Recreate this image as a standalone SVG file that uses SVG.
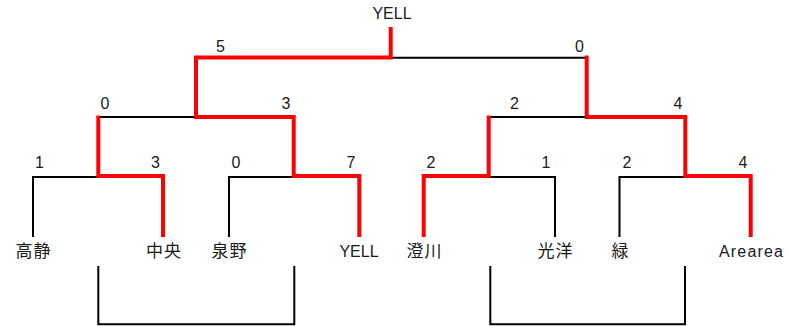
<svg xmlns="http://www.w3.org/2000/svg" width="788" height="326" viewBox="0 0 788 326">
<style>
.bk{fill:none;stroke:#000;stroke-width:2;stroke-linejoin:miter}
.rd{fill:none;stroke:#ff0000;stroke-width:4;stroke-linejoin:miter}
.nm{font-family:"Liberation Sans","Noto Sans CJK JP",sans-serif;font-size:16px;fill:#1a1a1a;text-anchor:middle}
.jp{font-size:17px;letter-spacing:1px}
.sc{font-family:"Liberation Sans",sans-serif;font-size:16px;fill:#1a1a1a;text-anchor:middle}
</style>
<rect width="788" height="326" fill="#fff"/>
<g id="connectors">
<path class="bk" d="M33 237V177H98"/>
<path class="bk" d="M229 237V177H294"/>
<path class="bk" d="M555 237V177H489"/>
<path class="bk" d="M619.5 237V177H685"/>
<path class="bk" d="M98 117H195"/>
<path class="bk" d="M489 117H586"/>
<path class="bk" d="M391 57.7H586"/>
<path class="bk" d="M98.3 266V324.3H294.3V266"/>
<path class="bk" d="M490.3 266V324.3H685V266"/>
<path class="rd" d="M163 237V176H98.3V115.5"/>
<path class="rd" d="M359.3 237V176H293.7V117H196V57.5H390.7V27"/>
<path class="rd" d="M423.7 237V176H488.7V115.5"/>
<path class="rd" d="M750.7 237V176H685.3V117H586.7V55.5"/>
</g>
<g id="champion"><text class="nm" x="392" y="19">YELL</text></g>
<g id="team-takashizu"><text class="nm jp" x="33.5" y="257">高静</text></g>
<g id="team-chuo"><text class="nm jp" x="164" y="257">中央</text></g>
<g id="team-izumino"><text class="nm jp" x="229.5" y="257">泉野</text></g>
<g id="team-yell"><text class="nm" x="359" y="257">YELL</text></g>
<g id="team-sumikawa"><text class="nm jp" x="424.5" y="257">澄川</text></g>
<g id="team-koyo"><text class="nm jp" x="555.5" y="257">光洋</text></g>
<g id="team-midori"><text class="nm jp" x="620.5" y="257">緑</text></g>
<g id="team-arearea"><text class="nm" x="751" y="257" textLength="64" lengthAdjust="spacing">Arearea</text></g>
<g id="scores">
<text class="sc" x="39.5" y="168">1</text>
<text class="sc" x="155.5" y="168">3</text>
<text class="sc" x="236" y="168">0</text>
<text class="sc" x="351" y="168">7</text>
<text class="sc" x="431" y="168">2</text>
<text class="sc" x="546" y="168">1</text>
<text class="sc" x="627" y="168">2</text>
<text class="sc" x="743" y="168">4</text>
<text class="sc" x="105" y="109">0</text>
<text class="sc" x="286" y="109">3</text>
<text class="sc" x="514.5" y="109">2</text>
<text class="sc" x="678" y="109">4</text>
<text class="sc" x="220.5" y="52">5</text>
<text class="sc" x="579.5" y="52">0</text>
</g>
</svg>
